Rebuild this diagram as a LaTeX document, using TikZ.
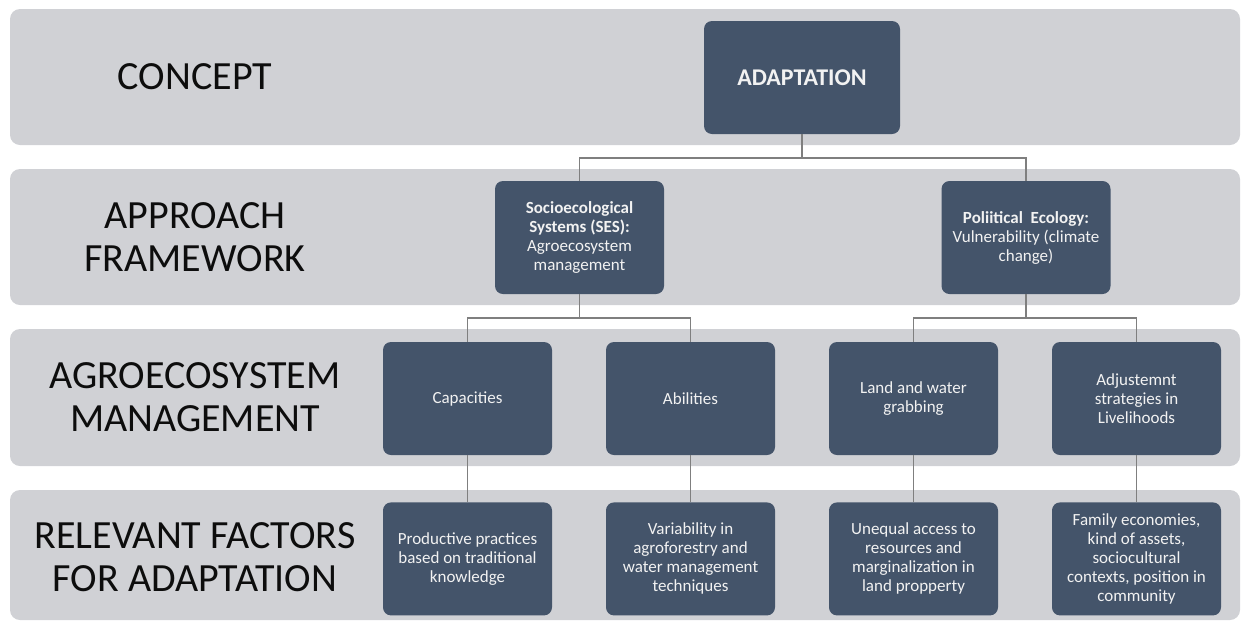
\documentclass[tikz,border=0pt]{standalone}
\usepackage{fontspec}
\setmainfont{Carlito}
\usepackage{tikz}
\usetikzlibrary{positioning}

\definecolor{bandgray}{HTML}{D0D1D5}
\definecolor{boxblue}{HTML}{44546A}
\definecolor{linkgray}{HTML}{7F7F7F}

\begin{document}
\begin{tikzpicture}[x=1pt, y=-1pt, node distance = 0pt,
        band/.style={fill=bandgray, rounded corners=10pt},
        level/.style={text=black!95, align=center, font=\fontsize{40}{43}\selectfont},
        box/.style={rectangle, rounded corners=8pt, fill=boxblue, text=white!95!black, align=center,
            minimum width=169pt, minimum height=113pt, inner sep=2pt, font=\fontsize{17}{19}\selectfont},
        topbox/.style={box, minimum width=196pt, font=\fontsize{24}{27}\selectfont\bfseries},
        link/.style={draw=linkgray, line width=1.2pt}
    ]
        \useasboundingbox (0,0) rectangle (1242,622);
        % Bands
        \fill[band] (10,9) rectangle (1240,145);
        \fill[band] (10,169) rectangle (1240,305);
        \fill[band] (10,329) rectangle (1240,466);
        \fill[band] (10,490) rectangle (1240,620);
        % Level names
        \node[level] (concept) at (195,77) {CONCEPT};
        \node[level] (approach) at (195,237) {APPROACH\\FRAMEWORK};
        \node[level] (agro) at (195,397) {AGROECOSYSTEM\\MANAGEMENT};
        \node[level] (factors) at (195,557) {RELEVANT FACTORS\\FOR ADAPTATION};
        % Concept
        \node[topbox] (adapt) at (802,77.5) {ADAPTATION};
        % Approaches
        \node[box] (ses) at (579.5,237.5) {\textbf{Socioecological}\\\textbf{Systems (SES):}\\Agroecosystem\\management};
        \node[box] (pol) at (1026,237.5) {\textbf{Poliitical\ \ Ecology:}\\Vulnerability (climate\\change)};
        % Management
        \node[box] (cap) at (467.5,398.5) {Capacities};
        \node[box] (abil) at (690.5,398.5) {Abilities};
        \node[box] (grab) at (913.5,398.5) {Land and water\\grabbing};
        \node[box] (adjust) at (1136.5,398.5) {Adjustemnt\\strategies in\\Livelihoods};
        % Factors
        \node[box, below=47pt of cap] (prod) {Productive practices\\based on traditional\\knowledge};
        \node[box, below=47pt of abil] (var) {Variability in\\agroforestry and\\water management\\techniques};
        \node[box, below=47pt of grab] (uneq) {Unequal access to\\resources and\\marginalization in\\land propperty};
        \node[box, below=47pt of adjust] (family) {Family economies,\\kind of assets,\\sociocultural\\contexts, position in\\community};
        % Connections
        \coordinate (j1) at (802,158);
        \coordinate (j2) at (579.5,318);
        \coordinate (j3) at (1026,318);
        \path[link] (adapt.south) -- (j1) -| (ses.north);
        \path[link] (j1) -| (pol.north);
        \path[link] (ses.south) -- (j2) -| (cap.north);
        \path[link] (j2) -| (abil.north);
        \path[link] (pol.south) -- (j3) -| (grab.north);
        \path[link] (j3) -| (adjust.north);
        \path[link] (cap) -- (prod);
        \path[link] (abil) -- (var);
        \path[link] (grab) -- (uneq);
        \path[link] (adjust) -- (family);
    \end{tikzpicture}
\end{document}
